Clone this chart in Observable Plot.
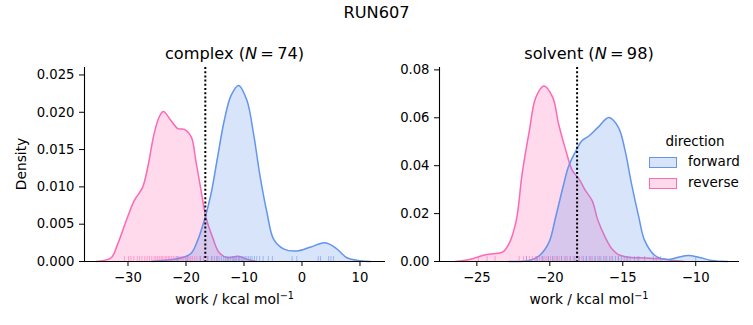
<!DOCTYPE html>
<html>
<head>
<meta charset="utf-8">
<script src="https://cdn.jsdelivr.net/npm/d3@7"></script>
<script src="https://cdn.jsdelivr.net/npm/@observablehq/plot@0.6"></script>
<style>
  html, body { margin: 0; padding: 0; background: #fff; }
  #fig { position: relative; width: 753px; height: 325px; font-family: "DejaVu Sans", sans-serif; color: #000; overflow: hidden; }
  #fig svg { position: absolute; top: 0; }
  .lbl { position: absolute; white-space: nowrap; transform: translate(-50%, -50%); line-height: 1; }
  .sw { position: absolute; box-sizing: border-box; border-width: 1.3px; border-style: solid; }
</style>
</head>
<body>
<div id="fig"></div>
<script>
// ---------------- data ----------------
const suptitle = "RUN607";
const directions = ["forward", "reverse"];
const colors = ["#6495ED", "#FF69B4"];

// complex panel KDE curves
const complexForwardWork    = [-26.0, -22.0, -20.3, -19.1, -18.0, -16.85, -15.7, -14.55, -13.4, -12.2, -10.93, -9.5, -8.35, -7.2, -6.0, -4.9, -3.2, -0.9, 1.4, 4.0, 6.0, 7.75, 10.05, 11.8];
const complexForwardDensity = [0.0000, 0.0003, 0.0006, 0.0011, 0.0028, 0.0055, 0.0090, 0.0140, 0.0189, 0.0223, 0.0236, 0.0216, 0.0171, 0.0113, 0.0064, 0.0030, 0.0017, 0.0014, 0.0019, 0.0025, 0.0017, 0.0005, 0.0001, 0.0000];
const complexReverseWork    = [-35.5, -32.9, -31.8, -30.1, -28.9, -27.5, -26.6, -25.5, -24.6, -23.9, -22.6, -21.4, -20.3, -19.1, -18.3, -17.4, -16.55, -15.4, -14.3, -12.8, -11.0, -9.5, -7.8];
const complexReverseDensity = [0.0000, 0.0005, 0.0023, 0.0059, 0.0082, 0.0099, 0.0126, 0.0171, 0.0194, 0.0201, 0.0189, 0.0178, 0.0177, 0.0167, 0.0135, 0.0095, 0.0059, 0.0032, 0.0012, 0.0005, 0.0007, 0.0003, 0.0000];

// solvent panel KDE curves
const solventForwardWork    = [-22.8, -21.4, -20.7, -20.05, -19.6, -19.1, -18.7, -18.2, -17.8, -17.3, -16.7, -15.94, -15.3, -14.84, -14.4, -13.9, -13.5, -12.8, -11.9, -11.2, -10.5, -9.8, -8.9, -7.8];
const solventForwardDensity = [0.0000, 0.0004, 0.0025, 0.0081, 0.0185, 0.0310, 0.0400, 0.0463, 0.0504, 0.0525, 0.0560, 0.0601, 0.0560, 0.0463, 0.0324, 0.0185, 0.0088, 0.0025, 0.0008, 0.0018, 0.0025, 0.0018, 0.0004, 0.0000];
const solventReverseWork    = [-26.5, -25.5, -24.6, -23.9, -23.25, -22.8, -22.3, -21.9, -21.4, -20.96, -20.4, -19.8, -19.4, -18.9, -18.45, -18.0, -17.6, -17.1, -16.7, -16.2, -15.75, -15.3, -14.6, -13.5, -12.3, -11.4, -10.8];
const solventReverseDensity = [0.0000, 0.0008, 0.0025, 0.0032, 0.0039, 0.0074, 0.0171, 0.0365, 0.0546, 0.0685, 0.0733, 0.0685, 0.0574, 0.0463, 0.0379, 0.0345, 0.0300, 0.0254, 0.0171, 0.0101, 0.0053, 0.0029, 0.0018, 0.0015, 0.0011, 0.0003, 0.0000];

// rug values (individual work values)
const complexForwardRug = [-21.5, -19.8, -17.5, -16.2, -15.6, -15.1, -14.7, -14.3, -13.9, -13.5, -13.2, -12.9, -12.6, -12.3, -12.0, -11.8, -11.5, -11.3, -11.0, -10.8, -10.5, -10.3, -10.0, -9.8, -9.5, -9.2, -8.9, -8.6, -8.2, -7.8, -7.3, -6.7, -5.8, -5.1, -1.7, -0.9, 2.8, 3.2, 4.6, 5.0, 5.45];
const complexReverseRug = [-30.6, -29.9, -29.5, -29.0, -28.4, -28.0, -27.6, -27.1, -26.7, -26.3, -25.9, -25.5, -25.2, -24.9, -24.6, -24.3, -24.1, -23.8, -23.5, -23.3, -23.0, -22.8, -22.5, -22.2, -21.9, -21.6, -21.3, -21.0, -20.7, -20.4, -20.1, -19.8, -19.5, -19.2, -18.9, -18.5, -18.1, -17.6, -17.0, -16.3, -15.5, -14.6, -12.8, -11.6, -10.9];
const solventForwardRug = [-21.6, -20.9, -20.5, -20.1, -19.8, -19.5, -19.2, -18.9, -18.6, -18.3, -18.0, -17.7, -17.5, -17.3, -17.1, -16.9, -16.7, -16.5, -16.3, -16.1, -15.9, -15.7, -15.5, -15.3, -15.1, -14.9, -14.7, -14.5, -14.2, -13.9, -13.5, -12.9, -12.4, -10.0];
const solventReverseRug = [-24.9, -24.3, -23.75, -22.1, -21.8, -21.6, -21.4, -21.2, -21.0, -20.85, -20.7, -20.55, -20.4, -20.25, -20.1, -19.95, -19.8, -19.65, -19.5, -19.35, -19.2, -19.0, -18.8, -18.6, -18.4, -18.2, -18.0, -17.8, -17.5, -17.2, -16.9, -16.6, -16.2, -15.8, -15.3, -14.7, -14.0, -12.7];

// vertical dotted reference lines
const complexLine = -16.67;
const solventLine = -18.13;

// axis ticks
const complexXTicks = [-30, -20, -10, 0, 10];
const complexYTicks = [0, 0.005, 0.010, 0.015, 0.020, 0.025];
const solventXTicks = [-25, -20, -15, -10];
const solventYTicks = [0, 0.02, 0.04, 0.06, 0.08];

// ---------------- drawing ----------------
const zip = (xs, ys) => xs.map((x, i) => ({work: x, density: ys[i]}));
const minusFmt = d => (d < 0 ? "\u2212" + Math.abs(d) : String(d));
const FS = 13.2;
const LFS = 13.8;
const CURVE = "catmull-rom";

function panel({fw, rv, fRug, rRug, line, xDomain, yDomain, xTicks, yTicks, yFmt, width, marginLeft, marginRight}) {
  const frameH = 325 - 67 - 64;
  const rug = (vals, c) => Plot.ruleX(vals, {x: d => d, stroke: c, strokeWidth: 1, strokeOpacity: 0.55, insetTop: frameH - 5});
  return Plot.plot({
    width, height: 325,
    marginLeft, marginRight, marginTop: 67, marginBottom: 64,
    style: {fontFamily: "DejaVu Sans", fontSize: FS + "px", color: "#000", background: "none", overflow: "visible"},
    x: {domain: xDomain},
    y: {domain: yDomain},
    marks: [
      Plot.areaY(rv, {x: "work", y: "density", fill: colors[1], fillOpacity: 0.25, curve: CURVE}),
      Plot.lineY(rv, {x: "work", y: "density", stroke: colors[1], strokeWidth: 1.5, curve: CURVE}),
      Plot.areaY(fw, {x: "work", y: "density", fill: colors[0], fillOpacity: 0.25, curve: CURVE}),
      Plot.lineY(fw, {x: "work", y: "density", stroke: colors[0], strokeWidth: 1.5, curve: CURVE}),
      rug(rRug, colors[1]),
      rug(fRug, colors[0]),
      Plot.ruleX([line], {stroke: "#000", strokeWidth: 2, strokeDasharray: "2,2.2"}),
      Plot.ruleY([yDomain[0]], {stroke: "#000", strokeWidth: 1.1}),
      Plot.ruleX([xDomain[0]], {stroke: "#000", strokeWidth: 1.1}),
      Plot.axisX({ticks: xTicks, tickFormat: minusFmt, tickSize: 5, tickPadding: 6, label: null, fontSize: FS}),
      Plot.axisY({ticks: yTicks, tickFormat: yFmt, tickSize: 5, tickPadding: 5, label: null, fontSize: FS})
    ]
  });
}

const fig = document.getElementById("fig");

const left = panel({
  fw: zip(complexForwardWork, complexForwardDensity),
  rv: zip(complexReverseWork, complexReverseDensity),
  fRug: complexForwardRug, rRug: complexReverseRug, line: complexLine,
  xDomain: [-37.5, 14.4], yDomain: [0, 0.026],
  xTicks: complexXTicks, yTicks: complexYTicks, yFmt: d3.format(".3f"),
  width: 390, marginLeft: 84, marginRight: 5
});
left.style.left = "0px";
fig.appendChild(left);

const right = panel({
  fw: zip(solventForwardWork, solventForwardDensity),
  rv: zip(solventReverseWork, solventReverseDensity),
  fRug: solventForwardRug, rRug: solventReverseRug, line: solventLine,
  xDomain: [-27.56, -7.0], yDomain: [0, 0.081],
  xTicks: solventXTicks, yTicks: solventYTicks, yFmt: d3.format(".2f"),
  width: 363, marginLeft: 49, marginRight: 14
});
right.style.left = "390px";
fig.appendChild(right);

function label(html, x, y, size, rotate) {
  const d = document.createElement("div");
  d.className = "lbl";
  d.innerHTML = html;
  d.style.left = x + "px";
  d.style.top = y + "px";
  d.style.fontSize = size + "px";
  if (rotate) d.style.transform = "translate(-50%, -50%) rotate(-90deg)";
  fig.appendChild(d);
  return d;
}

label(suptitle, 376.5, 13, 16.2);
label("complex (<i>N</i>&#8201;=&#8201;74)", 234.5, 54, 16.2);
label("solvent (<i>N</i>&#8201;=&#8201;98)", 589, 54, 16.2);
label("work / kcal mol<sup style='font-size:0.7em;vertical-align:0.55em'>\u22121</sup>", 234.5, 299, LFS);
label("work / kcal mol<sup style='font-size:0.7em;vertical-align:0.55em'>\u22121</sup>", 589, 299, LFS);
label("Density", 21.5, 164, LFS, true);

// legend
label("direction", 695, 141.5, 13.5);
directions.forEach((name, i) => {
  const sw = document.createElement("div");
  sw.className = "sw";
  sw.style.left = "649px";
  sw.style.top = (157 + i * 21) + "px";
  sw.style.width = "28px";
  sw.style.height = "10.5px";
  sw.style.borderColor = colors[i];
  sw.style.background = d3.color(colors[i]).copy({opacity: 0.25}).formatRgb();
  fig.appendChild(sw);
  const t = label(name, 688, 162 + i * 21, 13.5);
  t.style.transform = "translate(0, -50%)";
});
</script>
</body>
</html>
